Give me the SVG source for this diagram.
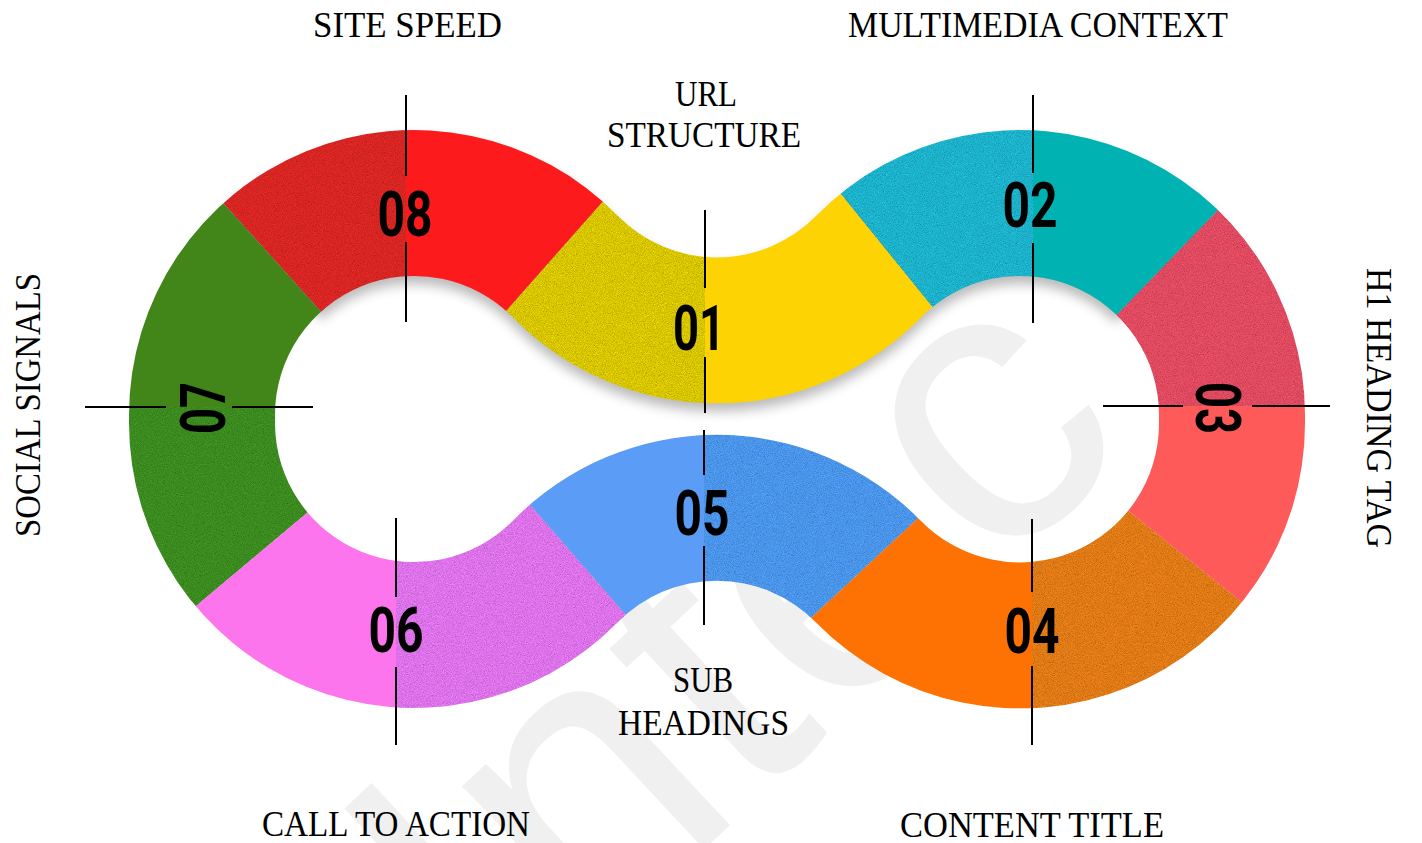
<svg xmlns="http://www.w3.org/2000/svg" width="1422" height="843" viewBox="0 0 1422 843">
<defs>
<style>
.num{font-family:'Liberation Sans Narrow',Roboto,'Liberation Sans',sans-serif;font-weight:700;font-size:63px;text-anchor:middle;fill:#000}
.lbl{font-family:'Liberation Serif','DejaVu Serif',serif;font-size:35px;text-anchor:middle;fill:#000}
.ln{stroke:#000;stroke-width:2;fill:none}
.wm{font-family:'Liberation Sans',sans-serif;font-size:400px;fill:#f0f0f0}
</style>
<clipPath id="band"><path clip-rule="evenodd" d="M617.5 215.5 A139 139 0 0 0 816.5 215.5 A285 285 0 0 1 1305 415 L1305 423 A285 285 0 0 1 816.3 622.7 A139 139 0 0 0 617.5 622.5 A285 285 0 0 1 129 423 L129 415 A285 285 0 0 1 617.5 215.5 Z M513.3 317.7 A285 285 0 0 0 920.7 317.7 A139 139 0 0 1 1159 415 L1159 423 A139 139 0 0 1 920.5 520.5 A285 285 0 0 0 513.3 520.3 A139 139 0 0 1 275 423 L275 415 A139 139 0 0 1 513.3 317.7 Z"/></clipPath>
<filter id="grain" x="0" y="0" width="100%" height="100%">
<feTurbulence type="fractalNoise" baseFrequency="1.1" numOctaves="2" seed="4" result="n"/>
<feColorMatrix in="n" type="matrix" values="0.33 0.33 0.33 0 0 0.33 0.33 0.33 0 0 0.33 0.33 0.33 0 0 0 0 0 0 1" result="g"/>
<feComposite in="SourceGraphic" in2="g" operator="arithmetic" k1="1.7" k2="0.15" k3="0" k4="0" result="t"/>
<feComposite in="t" in2="SourceGraphic" operator="in"/>
</filter>
<filter id="blur" x="-10%" y="-10%" width="120%" height="130%"><feGaussianBlur stdDeviation="6"/></filter>
</defs>
<rect width="1422" height="843" fill="#fff"/>
<text class="wm" transform="translate(505,1035) rotate(-43)">Intec</text>
<g id="shadow" filter="url(#blur)" opacity="0.4" transform="translate(0,8)">
<g clip-path="url(#band)"><polygon fill="#555" points="414,415 112.9,80.6 112.9,0 1332.6,0 1332.6,91.3 1020,415 705,430"/></g>
</g>
<g id="node08">
<g clip-path="url(#band)">
<polygon fill="#d82522" filter="url(#grain)" points="414,415 112.9,80.6 112.9,0 406,0 406,415"/>
<polygon fill="#fc1a1c" points="406,415 406,0 712.1,0 712.1,77.9 414,415"/>
</g>
<text class="num" x="405" y="236" textLength="55" lengthAdjust="spacingAndGlyphs">08</text>
<text class="lbl" x="407.5" y="37" textLength="189" lengthAdjust="spacingAndGlyphs">SITE SPEED</text>
</g>
<g id="node01">
<g clip-path="url(#band)">
<polygon fill="#d8c600" filter="url(#grain)" points="414,415 705,86 705,430"/>
<polygon fill="#fdd303" points="705,86 705,430 1020,415 736.8,65.3"/>
</g>
<text class="num" x="699" y="350" textLength="52" lengthAdjust="spacingAndGlyphs">01</text>
<text class="lbl" x="706" y="106" textLength="62" lengthAdjust="spacingAndGlyphs">URL</text>
<text class="lbl" x="704" y="147" textLength="194" lengthAdjust="spacingAndGlyphs">STRUCTURE</text>
</g>
<g id="node02">
<g clip-path="url(#band)">
<polygon fill="#1cb2cb" filter="url(#grain)" points="1020,415 736.8,65.3 737,0 1033,0 1033,415"/>
<polygon fill="#00b2b1" points="1033,415 1033,0 1332.6,0 1332.6,91.3 1020,415"/>
</g>
<text class="num" x="1030" y="227" textLength="55" lengthAdjust="spacingAndGlyphs">02</text>
<text class="lbl" x="1038" y="37" textLength="380" lengthAdjust="spacingAndGlyphs">MULTIMEDIA CONTEXT</text>
</g>
<g id="node03">
<g clip-path="url(#band)">
<polygon fill="#e04a60" filter="url(#grain)" points="1020,415 1332.6,91.3 1422,91.3 1422,406 1020,406"/>
<polygon fill="#fd5a59" points="1020,406 1422,406 1422,706 1369.7,706.2 1020,423"/>
</g>
<text class="num" transform="translate(1196,408) rotate(90)" textLength="52" lengthAdjust="spacingAndGlyphs">03</text>
<text class="lbl" transform="translate(1367,408) rotate(90)" textLength="280" lengthAdjust="spacingAndGlyphs">H1 HEADING TAG</text>
</g>
<g id="node04">
<g clip-path="url(#band)">
<polygon fill="#e07a14" filter="url(#grain)" points="1020,423 1369.7,706.2 1369.7,843 1032,843 1032,423"/>
<polygon fill="#fe7203" points="1032,423 1032,843 690.9,843 690.9,729.9 1020,423"/>
</g>
<text class="num" x="1032" y="653" textLength="55" lengthAdjust="spacingAndGlyphs">04</text>
<text class="lbl" x="1032" y="837" textLength="264" lengthAdjust="spacingAndGlyphs">CONTENT TITLE</text>
</g>
<g id="node05">
<g clip-path="url(#band)">
<polygon fill="#4a95ea" filter="url(#grain)" points="704,420 1020,423 704,717.7"/>
<polygon fill="#5b9cf7" points="717,720 421.8,380.3 704,420 704,720"/>
</g>
<text class="num" x="702" y="535" textLength="55" lengthAdjust="spacingAndGlyphs">05</text>
<text class="lbl" x="703" y="692" textLength="60" lengthAdjust="spacingAndGlyphs">SUB</text>
<text class="lbl" x="703.5" y="735" textLength="171" lengthAdjust="spacingAndGlyphs">HEADINGS</text>
</g>
<g id="node06">
<g clip-path="url(#band)">
<polygon fill="#dd72ea" filter="url(#grain)" points="396,423 459,423 800,815.6 800,843 396,843"/>
<polygon fill="#fd75ec" points="396,423 396,843 69.3,843 69.3,712.3 414,423"/>
</g>
<text class="num" x="396" y="652" textLength="55" lengthAdjust="spacingAndGlyphs">06</text>
<text class="lbl" x="396" y="836" textLength="268" lengthAdjust="spacingAndGlyphs">CALL TO ACTION</text>
</g>
<g id="node07">
<g clip-path="url(#band)">
<polygon fill="#3b8b1f" filter="url(#grain)" points="414,423 69.3,712.3 0,712.3 0,407 414,407"/>
<polygon fill="#428519" points="414,415 414,407 0,407 0,0 112.9,80.6"/>
</g>
<text class="num" transform="translate(225,408) rotate(-90)" textLength="52" lengthAdjust="spacingAndGlyphs">07</text>
<text class="lbl" transform="translate(40,405) rotate(-90)" textLength="264" lengthAdjust="spacingAndGlyphs">SOCIAL SIGNALS</text>
</g>
<g id="connectors" class="ln">
<path d="M406 95V176M406 242V322"/>
<path d="M705 210V288M705 357V413"/>
<path d="M1033 95V173M1033 243V323"/>
<path d="M1103 406H1183M1252 406H1330"/>
<path d="M1032 519V592M1032 666V745"/>
<path d="M704 430V475M704 546V625"/>
<path d="M396 518V597M396 667V745"/>
<path d="M85 407H166M232 407H313"/>
</g>
</svg>
